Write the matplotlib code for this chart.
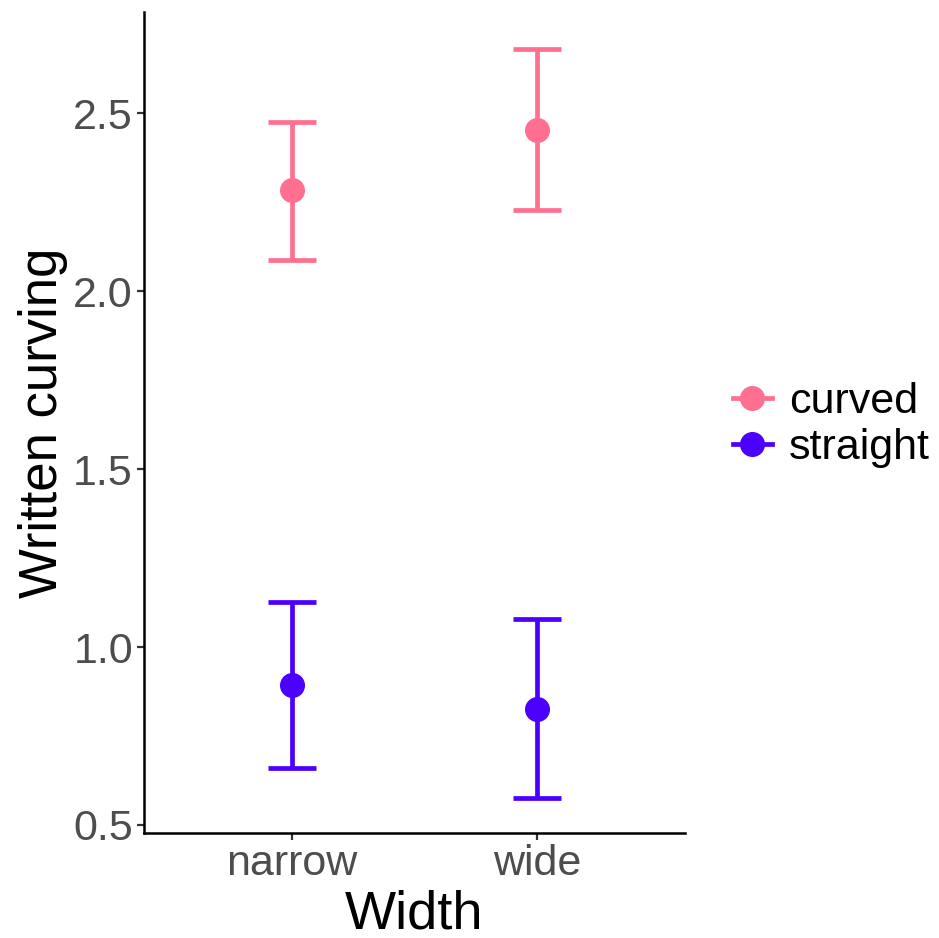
import numpy as np
import matplotlib.pyplot as plt
from matplotlib.lines import Line2D

plt.rcParams['font.family'] = ['Liberation Sans', 'DejaVu Sans']

widths = ['narrow', 'wide']
groups = ['curved', 'straight']
colors = {'curved': '#FF6F8F', 'straight': '#4B00FF'}
means = {'curved': [2.283, 2.452], 'straight': [0.893, 0.826]}
lower = {'curved': [2.088, 2.229], 'straight': [0.660, 0.576]}
upper = {'curved': [2.474, 2.680], 'straight': [1.127, 1.079]}

fig = plt.figure(figsize=(9.39, 9.38), dpi=100)
ax = fig.add_axes([144/939, 105/938, (685-144)/939, (833-12)/938])

x = np.arange(1, len(widths)+1)
for g in groups:
    m = np.array(means[g])
    err = [m - np.array(lower[g]), np.array(upper[g]) - m]
    ax.errorbar(x, m, yerr=err, fmt='o', color=colors[g], ecolor=colors[g],
                elinewidth=3.4, capsize=17.5, capthick=3.4, markersize=17, zorder=3)

ax.set_xlim(0.4, 2.6)
ax.set_ylim(0.4775, 2.784)
ax.set_xticks(x)
ax.set_xticklabels(widths)
ax.set_yticks([0.5, 1.0, 1.5, 2.0, 2.5])
ax.set_yticklabels(['0.5', '1.0', '1.5', '2.0', '2.5'])
ax.tick_params(axis='both', labelsize=31, colors='#333333', labelcolor='#4D4D4D',
               length=5, width=1.6, pad=3)
for s in ['top', 'right']:
    ax.spines[s].set_visible(False)
for s in ['left', 'bottom']:
    ax.spines[s].set_linewidth(1.8)
ax.set_xlabel('Width', fontsize=39, labelpad=4)
ax.set_ylabel('Written curving', fontsize=38, labelpad=4)

handles = [Line2D([0], [0], color=colors[g], marker='o', markersize=17, lw=3.4) for g in groups]
fig.legend(handles, groups, loc='center left', bbox_to_anchor=(733/939, 1 - 425/938),
           frameon=False, fontsize=31, handlelength=0.9, handletextpad=0.4,
           labelspacing=0.12, borderaxespad=0, borderpad=0)

fig.savefig('out.png', dpi=100)
